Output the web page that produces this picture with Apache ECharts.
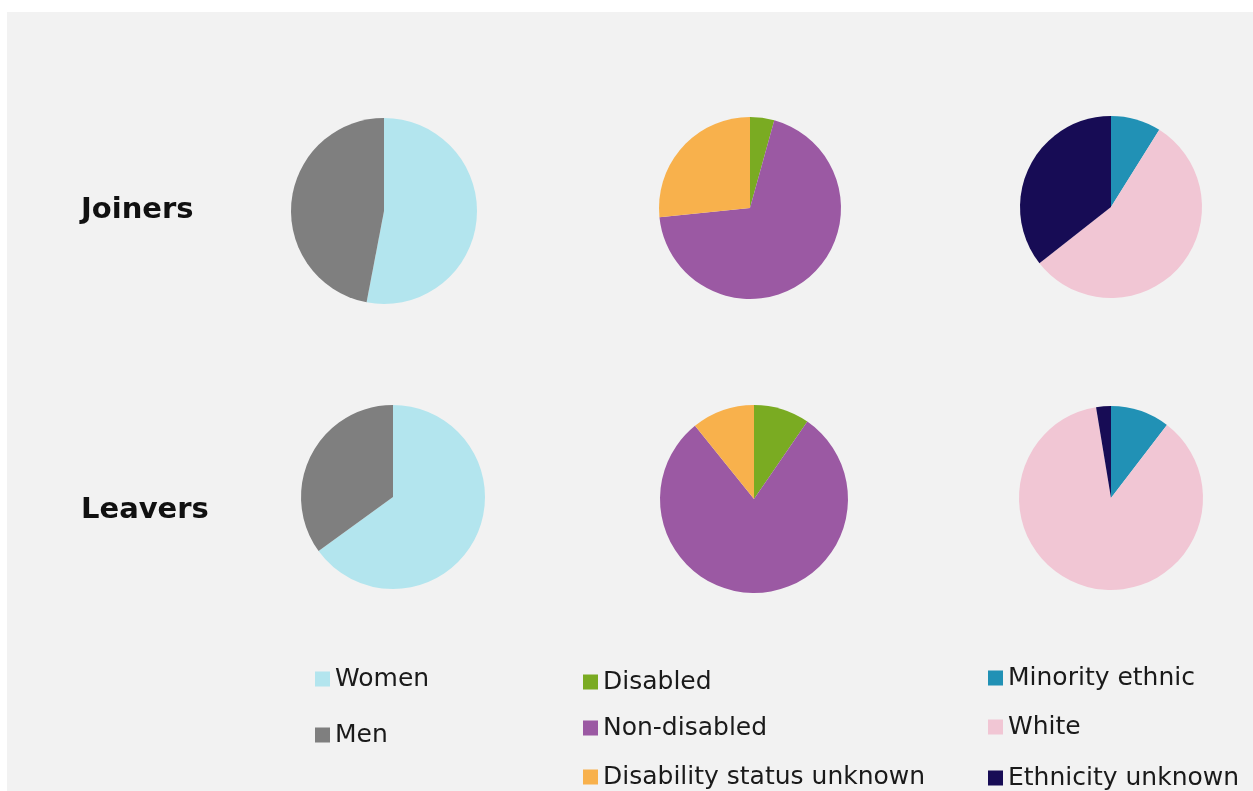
<!DOCTYPE html>
<html>
<head>
<meta charset="utf-8">
<script src="https://cdn.jsdelivr.net/npm/echarts@6/dist/echarts.min.js"></script>
<style>
  html, body { margin: 0; padding: 0; background: #fff; }
  #chart { width: 1253px; height: 791px; }
</style>
</head>
<body>
<div id="chart"></div>
<script>
// categories
const genderNames = ["Women", "Men"];
const disabilityNames = ["Disabled", "Non-disabled", "Disability status unknown"];
const ethnicityNames = ["Minority ethnic", "White", "Ethnicity unknown"];
const rowLabels = ["Joiners", "Leavers"];

// shares (%)
const joinersGender = [53, 47];
const leaversGender = [65, 35];
const joinersDisability = [4.3, 69.1, 26.6];
const leaversDisability = [9.6, 79.6, 10.8];
const joinersEthnicity = [8.9, 55.5, 35.6];
const leaversEthnicity = [10.4, 87.0, 2.6];

const genderColors = ["#b3e5ee", "#7f7f7f"];
const disabilityColors = ["#7aab22", "#9b59a3", "#f8b14c"];
const ethnicityColors = ["#2191b5", "#f1c6d4", "#170c55"];

const chart = echarts.init(document.getElementById("chart"));

function pie(names, values, colors, center, radius) {
    return {
        type: "pie",
        center: center,
        radius: radius,
        startAngle: 90,
        clockwise: true,
        silent: true,
        label: { show: false },
        labelLine: { show: false },
        itemStyle: { borderWidth: 0 },
        emphasis: { disabled: true },
        data: names.map((n, i) => ({
            name: n,
            value: values[i],
            itemStyle: { color: colors[i] },
        })),
    };
}

// one legend per entry so each row sits where the picture has it
function legendItem(name, left, centerY) {
    return {
        left: left,
        top: centerY - 15,
        padding: 0,
        icon: "rect",
        itemWidth: 15,
        itemHeight: 15,
        selectedMode: false,
        textStyle: {
            fontFamily: "DejaVu Sans",
            fontSize: 25,
            lineHeight: 30,
            color: "#1a1a1a",
        },
        data: [name],
    };
}

const legendCols = [
    { names: genderNames, left: 315, ys: [679, 735] },
    { names: disabilityNames, left: 583, ys: [682, 728, 777] },
    { names: ethnicityNames, left: 988, ys: [678, 727, 778] },
];

const legends = [];
legendCols.forEach((c) => {
    c.names.forEach((n, i) => legends.push(legendItem(n, c.left, c.ys[i])));
});

function rowLabel(text, y) {
    return {
        type: "text",
        x: 81,
        y: y,
        style: {
            text: text,
            font: "bold 29px 'DejaVu Sans'",
            fill: "#111",
            verticalAlign: "middle",
        },
    };
}

chart.setOption({
    backgroundColor: "#ffffff",
    animation: false,
    graphic: [
        {
            type: "rect",
            z: -10,
            shape: { x: 7, y: 12, width: 1246, height: 779 },
            style: { fill: "#f2f2f2" },
        },
        rowLabel(rowLabels[0], 210),
        rowLabel(rowLabels[1], 510),
    ],
    legend: legends,
    series: [
        pie(genderNames, joinersGender, genderColors, [384, 211], 93),
        pie(disabilityNames, joinersDisability, disabilityColors, [750, 208], 91),
        pie(ethnicityNames, joinersEthnicity, ethnicityColors, [1111, 207], 91),
        pie(genderNames, leaversGender, genderColors, [393, 497], 92),
        pie(disabilityNames, leaversDisability, disabilityColors, [754, 499], 94),
        pie(ethnicityNames, leaversEthnicity, ethnicityColors, [1111, 498], 92),
    ],
});
</script>
</body>
</html>
